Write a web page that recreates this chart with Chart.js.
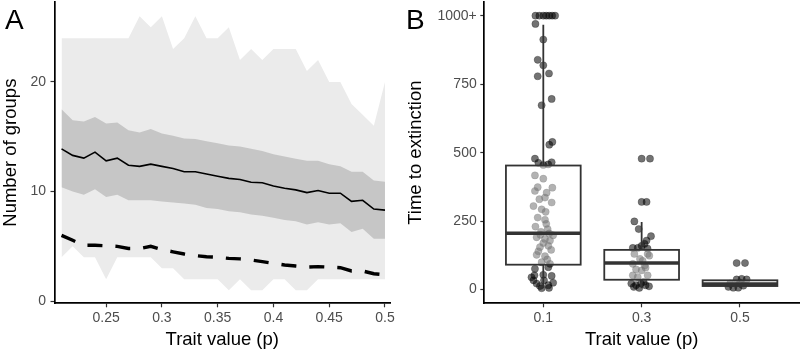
<!DOCTYPE html>
<html>
<head>
<meta charset="utf-8">
<script src="https://cdn.jsdelivr.net/npm/chart.js@4.4.0/dist/chart.umd.min.js"></script>
<style>
  body { margin: 0; background: #fff; width: 802px; height: 352px; position: relative; overflow: hidden;
         font-family: "Liberation Sans", Arial, sans-serif; }
  canvas { position: absolute; top: 0; }
  .tag { position: absolute; top: 6px; font-size: 28px; line-height: 1; color: #000; }
</style>
</head>
<body>
<canvas id="chartA" width="400" height="352" style="left:0"></canvas>
<canvas id="chartB" width="402" height="352" style="left:400px"></canvas>
<div class="tag" style="left:5px">A</div>
<div class="tag" style="left:406px">B</div>
<script>
// ---- panel A: number of groups against trait value ----
const pValues = [0.21, 0.22, 0.23, 0.24, 0.25, 0.26, 0.27, 0.28, 0.29, 0.30,
                 0.31, 0.32, 0.33, 0.34, 0.35, 0.36, 0.37, 0.38, 0.39, 0.40,
                 0.41, 0.42, 0.43, 0.44, 0.45, 0.46, 0.47, 0.48, 0.49, 0.50];
const groupsMax = [24, 24, 24, 24, 24, 24, 24, 26, 25, 26, 23, 24, 26, 24, 24,
                   25, 22, 23, 22, 23, 23, 23, 21, 22, 20, 20, 18, 17, 16, 20];
const groupsMin = [4, 5, 4, 4, 2, 4, 4, 4, 4, 3, 3, 2, 2, 2, 2,
                   1, 2, 1, 1, 2, 2, 1, 1, 2, 2, 2, 2, 2, 2, 2];
const groupsHigh = [17.5, 16.5, 16.4, 16.8, 16.2, 16.3, 15.6, 15.4, 15.7, 15.3,
                    15.1, 14.85, 14.8, 14.6, 14.4, 14.2, 14.1, 13.9, 13.7, 13.4,
                    13.2, 13.0, 12.8, 12.8, 12.5, 12.3, 11.8, 11.8, 11.0, 10.9];
const groupsLow = [10.4, 10.0, 9.7, 10.2, 9.5, 9.7, 9.2, 9.2, 9.2, 9.1,
                   9.0, 8.9, 8.8, 8.5, 8.4, 8.2, 8.1, 7.9, 7.8, 7.6,
                   7.4, 7.3, 7.0, 7.2, 7.0, 7.1, 6.3, 6.6, 5.7, 5.7];
const groupsMean = [13.9, 13.3, 13.05, 13.6, 12.8, 13.05, 12.4, 12.3, 12.5, 12.3,
                    12.1, 11.8, 11.8, 11.6, 11.4, 11.2, 11.1, 10.85, 10.8, 10.5,
                    10.3, 10.15, 9.9, 10.1, 9.85, 9.85, 9.1, 9.2, 8.4, 8.3];
const groupsDashed = [6.0, 5.55, 5.1, 5.1, 5.05, 5.0, 4.8, 4.8, 5.0, 4.7,
                      4.5, 4.3, 4.15, 4.05, 4.0, 3.9, 3.85, 3.75, 3.6, 3.45,
                      3.3, 3.2, 3.1, 3.15, 3.1, 3.05, 2.75, 2.75, 2.5, 2.4];
const xTicksA = [0.25, 0.3, 0.35, 0.4, 0.45, 0.5];
const yTicksA = [0, 10, 20];

// ---- panel B: time to extinction ----
const traitGroups = ['0.1', '0.3', '0.5'];
const yTicksB = [0, 250, 500, 750, 1000];
const yTitleB = 'Time to extinction';
const jitter1 = [-0.08, -0.04, 0.0, 0.03, 0.06, 0.09, 0.12, -0.08, 0.0, -0.057, 0.0, -0.057, 0.058,
                 0.085, -0.017, 0.092, 0.061, -0.085, 0.085, -0.05, 0.0, 0.05,
                 -0.085, 0.0, -0.057, 0.092, 0.034, -0.085, -0.04, 0.017, 0.085, -0.1, -0.017, 0.024,
                 -0.057, 0.017, 0.044, -0.024, -0.068, 0.017, 0.068, -0.034, 0.051, -0.068, 0.017,
                 -0.017, 0.068, -0.03, 0.06, 0.0, -0.05, 0.08, 0.03, -0.08, 0.1, 0.04,
                 -0.085, 0.051, -0.09, 0.0, 0.085, -0.1, -0.068, 0.007, 0.051, -0.034, 0.058,
                 -0.12, -0.017, 0.1];
const time1 = [1000, 1000, 1000, 1000, 1000, 1000, 1000, 970, 913, 839, 819, 779, 789,
               696, 673, 539, 529, 478, 465, 463, 455, 457,
               417, 405, 374, 372, 354, 360, 330, 336, 318, 305, 293, 284,
               263, 255, 221, 211, 191, 185, 179, 155, 160, 127, 122,
               100, 94, 200, 205, 170, 140, 145, 240, 230, 198, 110,
               76, 82, 52, 54, 50, 34, 22, 34, 16, 13, 6,
               45, 5, 25];
const jitter2 = [0.0, 0.085, 0.0, 0.05, -0.074, -0.03, 0.095, 0.05, 0.03, 0.0, -0.09, -0.04, 0.06,
                 -0.074, 0.061, -0.017, 0.078, -0.09, 0.03, -0.057, 0.0, -0.09, -0.04, 0.061, 0.01, 0.04,
                 -0.105, -0.057, -0.007, 0.04, -0.024, 0.075, -0.08, 0.02];
const time2 = [478, 478, 320, 320, 249, 221, 195, 179, 167, 160, 152, 152, 150,
               130, 130, 112, 124, 94, 88, 74, 70, 52, 46, 52, 105, 80,
               22, 16, 22, 16, 6, 12, 10, 28];
const jitter3 = [-0.034, 0.051, -0.034, 0.017, 0.068, -0.118, -0.068, -0.017, 0.034, -0.1, 0.0];
const time3 = [97, 97, 37, 39, 37, 10, 7, 7, 14, 22, 25];
// box statistics per group
const whiskerLow = [5, 5, 7];
const boxQ1 = [91, 36, 13];
const boxMedian = [206, 97, 20];
const boxQ3 = [453, 145, 34];
const whiskerHigh = [967, 247, 39];

const fontFamily = '"Liberation Sans", Arial, sans-serif';
Chart.defaults.font.family = fontFamily;
Chart.defaults.color = '#4d4d4d';

const tickFont = { size: 14 };
const titleFont = { size: 18.5 };

function axisStyle(extra) {
  return Object.assign({
    grid: { display: true, drawOnChartArea: false, drawTicks: true, tickLength: 4, tickColor: '#333', tickWidth: 1.2 },
    border: { display: true, color: '#000', width: 1.7 },
  }, extra);
}

function toPoints(xs, ys) {
  return xs.map((x, i) => ({ x: x, y: ys[i] }));
}

// fixed axis boxes so the plot areas land where the reference has them
const fitX = s => { s.height = 48.7; s.paddingLeft = 0; s.paddingRight = 0; };
const fitY = w => s => { s.width = w; s.paddingTop = 0; s.paddingBottom = 0; };

// panel A
const lineBase = { pointRadius: 0, tension: 0, borderWidth: 0 };
new Chart(document.getElementById('chartA'), {
  type: 'line',
  data: {
    datasets: [
      Object.assign({ data: toPoints(pValues, groupsMax), fill: '+1', backgroundColor: '#ebebeb', order: 5 }, lineBase),
      Object.assign({ data: toPoints(pValues, groupsMin), fill: false, order: 4 }, lineBase),
      Object.assign({ data: toPoints(pValues, groupsHigh), fill: '+1', backgroundColor: '#c6c6c6', order: 3 }, lineBase),
      Object.assign({ data: toPoints(pValues, groupsLow), fill: false, order: 2 }, lineBase),
      { data: toPoints(pValues, groupsMean), borderColor: '#000', borderWidth: 1.6, pointRadius: 0, tension: 0, fill: false, order: 0 },
      { data: toPoints(pValues, groupsDashed), borderColor: '#000', borderWidth: 3.4, borderDash: [15, 13],
        borderCapStyle: 'butt', pointRadius: 0, tension: 0, fill: false, order: 1 },
    ],
  },
  options: {
    responsive: false,
    animation: false,
    devicePixelRatio: 1,
    layout: { autoPadding: false, padding: { top: 2, right: 10, left: 0, bottom: 0 } },
    plugins: { legend: { display: false }, tooltip: { enabled: false } },
    scales: {
      x: axisStyle({
        type: 'linear', min: 0.2037, max: 0.5045,
        afterBuildTicks: s => { s.ticks = xTicksA.map(v => ({ value: v })); },
        afterFit: fitX,
        ticks: { font: tickFont, padding: 2.8, maxRotation: 0, callback: v => String(Number(v.toFixed(2))) },
        title: { display: true, text: 'Trait value (p)', color: '#000', font: titleFont, padding: { top: 0, bottom: 1.3 } },
      }),
      y: axisStyle({
        type: 'linear', min: -0.2, max: 27.3,
        afterBuildTicks: s => { s.ticks = yTicksA.map(v => ({ value: v })); },
        afterFit: fitY(54.5),
        ticks: { font: tickFont, padding: 4.5 },
        title: { display: true, text: 'Number of groups', color: '#000', font: titleFont, padding: { top: 0, bottom: 0 } },
      }),
    },
  },
});

// panel B: jittered points first, boxes drawn over them through the scales
const boxWidth = 0.76;
const boxPlugin = {
  id: 'boxplot',
  afterDatasetsDraw(chart) {
    const { ctx, scales: { x, y } } = chart;
    ctx.save();
    traitGroups.forEach((g, i) => {
      const pos = i + 1;
      const cx = x.getPixelForValue(pos);
      const left = x.getPixelForValue(pos - boxWidth / 2);
      const right = x.getPixelForValue(pos + boxWidth / 2);
      const top = y.getPixelForValue(boxQ3[i]);
      const bottom = y.getPixelForValue(boxQ1[i]);
      ctx.strokeStyle = '#333';
      ctx.lineWidth = 1.8;
      ctx.beginPath();
      ctx.moveTo(cx, y.getPixelForValue(whiskerHigh[i]));
      ctx.lineTo(cx, top);
      ctx.moveTo(cx, bottom);
      ctx.lineTo(cx, y.getPixelForValue(whiskerLow[i]));
      ctx.stroke();
      ctx.fillStyle = 'rgba(255,255,255,0.45)';
      ctx.fillRect(left, top, right - left, bottom - top);
      ctx.strokeRect(left, top, right - left, bottom - top);
      ctx.lineWidth = 3.6;
      ctx.beginPath();
      const my = y.getPixelForValue(boxMedian[i]);
      ctx.moveTo(left, my);
      ctx.lineTo(right, my);
      ctx.stroke();
    });
    ctx.restore();
  },
};

// y title of panel B, kept at the left edge of the canvas like panel A's
const yTitlePlugin = {
  id: 'yTitleB',
  afterDraw(chart) {
    const { ctx, chartArea } = chart;
    ctx.save();
    ctx.translate(15.8, (chartArea.top + chartArea.bottom) / 2);
    ctx.rotate(-Math.PI / 2);
    ctx.font = '18.5px ' + fontFamily;
    ctx.fillStyle = '#000';
    ctx.textAlign = 'center';
    ctx.textBaseline = 'middle';
    ctx.fillText(yTitleB, 0, 0);
    ctx.restore();
  },
};

const pointStyle = { pointRadius: 3.6, pointBackgroundColor: 'rgba(0,0,0,0.55)', pointBorderColor: 'rgba(0,0,0,0.3)', pointBorderWidth: 0.8 };
new Chart(document.getElementById('chartB'), {
  type: 'scatter',
  data: {
    datasets: [
      Object.assign({ data: toPoints(jitter1.map(j => 1 + j), time1) }, pointStyle),
      Object.assign({ data: toPoints(jitter2.map(j => 2 + j), time2) }, pointStyle),
      Object.assign({ data: toPoints(jitter3.map(j => 3 + j), time3) }, pointStyle),
    ],
  },
  options: {
    responsive: false,
    animation: false,
    devicePixelRatio: 1,
    layout: { autoPadding: false, padding: { top: 2, right: 3, left: 0, bottom: 0 } },
    plugins: { legend: { display: false }, tooltip: { enabled: false } },
    scales: {
      x: axisStyle({
        type: 'linear', min: 0.4, max: 3.6,
        afterBuildTicks: s => { s.ticks = traitGroups.map((g, i) => ({ value: i + 1 })); },
        afterFit: fitX,
        ticks: { font: tickFont, padding: 2.8, maxRotation: 0, callback: v => traitGroups[v - 1] },
        title: { display: true, text: 'Trait value (p)', color: '#000', font: titleFont, padding: { top: 0, bottom: 1.3 } },
      }),
      y: axisStyle({
        type: 'linear', min: -50, max: 1050,
        afterBuildTicks: s => { s.ticks = yTicksB.map(v => ({ value: v })); },
        afterFit: fitY(84.3),
        ticks: { font: tickFont, padding: 3.6, callback: v => (v === 1000 ? '1000+' : String(v)) },
        title: { display: false },
      }),
    },
  },
  plugins: [boxPlugin, yTitlePlugin],
});
</script>
</body>
</html>
